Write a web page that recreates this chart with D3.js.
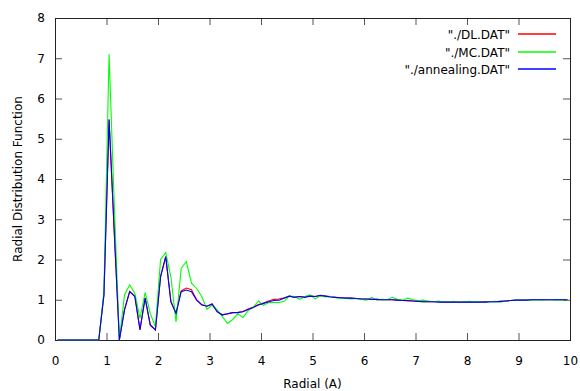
<!DOCTYPE html>
<html>
<head>
<meta charset="utf-8">
<script src="https://cdn.jsdelivr.net/npm/d3@7"></script>
<style>
  html, body { margin:0; padding:0; background:#fff; }
  svg { display:block; font-family:'DejaVu Sans', sans-serif; }
</style>
</head>
<body>
<svg id="chart" width="580" height="391"></svg>
<script>
/* ---------- data ---------- */
const radial = [
  0.05,0.15,0.25,0.35,0.45,0.55,0.65,0.75,0.85,0.95,
  1.05,1.15,1.25,1.35,1.45,1.55,1.65,1.75,1.85,1.95,
  2.05,2.15,2.25,2.35,2.45,2.55,2.65,2.75,2.85,2.95,
  3.05,3.15,3.25,3.35,3.45,3.55,3.65,3.75,3.85,3.95,
  4.05,4.15,4.25,4.35,4.45,4.55,4.65,4.75,4.85,4.95,
  5.05,5.15,5.25,5.35,5.45,5.55,5.65,5.75,5.85,5.95,
  6.05,6.15,6.25,6.35,6.45,6.55,6.65,6.75,6.85,6.95,
  7.05,7.15,7.25,7.35,7.45,7.55,7.65,7.75,7.85,7.95,
  8.05,8.15,8.25,8.35,8.45,8.55,8.65,8.75,8.85,8.95,
  9.05,9.15,9.25,9.35,9.45,9.55,9.65,9.75,9.85,9.95
];

const dlValues = [
  0,0,0,0,0,0,0,0,0,1.12,
  5.48,2.7,0,0.76,1.21,1.09,0.26,1.05,0.38,0.25,
  1.58,2.07,0.96,0.67,1.22,1.29,1.25,1.0,0.88,0.84,
  0.9,0.71,0.63,0.65,0.68,0.69,0.71,0.77,0.82,0.88,
  0.92,0.97,1.01,1.02,1.05,1.09,1.07,1.08,1.07,1.1,
  1.08,1.1,1.09,1.08,1.06,1.05,1.04,1.04,1.03,1.02,
  1.02,1.01,1.01,1.0,1.0,1.0,0.99,0.98,0.97,0.97,
  0.96,0.95,0.95,0.95,0.95,0.94,0.94,0.94,0.94,0.94,
  0.94,0.94,0.95,0.95,0.95,0.95,0.96,0.97,0.98,0.99,
  0.99,0.99,1.0,1.0,1.0,1.0,1.0,1.0,1.0,1.0
];

const mcValues = [
  0,0,0,0,0,0,0,0,0,1.2,
  7.1,3.4,0,1.12,1.37,1.16,0.54,1.18,0.66,0.33,
  2.0,2.17,1.57,0.45,1.78,1.95,1.41,1.28,1.08,0.76,
  0.87,0.75,0.58,0.41,0.51,0.65,0.56,0.73,0.81,0.97,
  0.86,0.93,0.93,0.93,0.96,1.09,1.08,1.01,1.08,1.12,
  1.02,1.1,1.07,1.08,1.05,1.04,1.03,1.02,1.03,1.01,
  0.99,1.06,0.99,1.01,1.0,1.06,1.01,0.99,1.04,1.0,
  0.98,0.99,0.97,0.95,0.97,0.94,0.95,0.96,0.93,0.95,
  0.96,0.94,0.95,0.93,0.95,0.96,0.94,0.97,0.98,0.99,
  0.98,1.0,0.99,1.0,0.99,1.0,1.0,0.99,1.0,0.99
];

const annealingValues = [
  0,0,0,0,0,0,0,0,0,1.12,
  5.48,2.7,0,0.75,1.2,1.08,0.25,1.04,0.37,0.25,
  1.57,2.07,0.95,0.66,1.2,1.24,1.2,0.99,0.87,0.84,
  0.89,0.7,0.62,0.65,0.68,0.68,0.7,0.76,0.81,0.87,
  0.91,0.95,0.98,0.99,1.04,1.09,1.06,1.08,1.06,1.09,
  1.08,1.11,1.09,1.07,1.06,1.05,1.04,1.04,1.03,1.02,
  1.02,1.01,1.01,1.0,1.0,1.0,0.99,0.98,0.98,0.97,
  0.96,0.95,0.95,0.95,0.94,0.94,0.94,0.94,0.94,0.94,
  0.94,0.94,0.94,0.94,0.95,0.95,0.96,0.97,0.98,0.99,
  0.99,0.99,1.0,1.0,1.0,1.0,1.0,1.0,1.0,1.0
];

const seriesNames  = ['"./DL.DAT"', '"./MC.DAT"', '"./annealing.DAT"'];
const seriesColors = ['#ff0000', '#00ff00', '#0000ff'];
const seriesValues = [dlValues, mcValues, annealingValues];

const xTicks = [0,1,2,3,4,5,6,7,8,9,10];
const yTicks = [0,1,2,3,4,5,6,7,8];

/* ---------- layout ---------- */
const svg = d3.select('#chart');
const margin = { top:18, right:10, bottom:51, left:55 };
const width = 580, height = 391;
const plotW = width - margin.left - margin.right;
const plotH = height - margin.top - margin.bottom;

const x = d3.scaleLinear().domain([0,10]).range([0, plotW]);
const y = d3.scaleLinear().domain([0,8]).range([plotH, 0]);

const g = svg.append('g').attr('transform', `translate(${margin.left},${margin.top})`);

// axes: ticks point inward, mirrored on top/right (gnuplot style)
const tickLen = 7;
const styleAxis = sel => {
  sel.select('.domain').remove();
  sel.selectAll('line').attr('stroke', '#555').attr('stroke-width', 1);
  sel.selectAll('text').attr('fill', '#000').style('font-size', '12px')
    .style('font-family', "'DejaVu Sans', sans-serif");
};

g.append('g').attr('transform', `translate(0,${plotH})`)
  .call(d3.axisBottom(x).tickValues(xTicks).tickFormat(d3.format('d')).tickSizeInner(-tickLen).tickSizeOuter(0).tickPadding(16))
  .call(styleAxis);
g.append('g')
  .call(d3.axisLeft(y).tickValues(yTicks).tickFormat(d3.format('d')).tickSizeInner(-tickLen).tickSizeOuter(0).tickPadding(10))
  .call(styleAxis);
g.append('g')
  .call(d3.axisTop(x).tickValues(xTicks.slice(1, -1)).tickSizeInner(-tickLen).tickSizeOuter(0).tickFormat(''))
  .call(styleAxis);
g.append('g').attr('transform', `translate(${plotW},0)`)
  .call(d3.axisRight(y).tickValues(yTicks.slice(1, -1)).tickSizeInner(-tickLen).tickSizeOuter(0).tickFormat(''))
  .call(styleAxis);

// frame
g.append('rect').attr('x', 0.5).attr('y', 0.5).attr('width', plotW).attr('height', plotH)
  .attr('fill', 'none').attr('stroke', '#222').attr('stroke-width', 1);

// lines
const line = d3.line().x((d, i) => x(radial[i])).y(d => y(d));
seriesValues.forEach((vals, k) => {
  g.append('path').datum(vals)
    .attr('d', line)
    .attr('fill', 'none')
    .attr('stroke', seriesColors[k])
    .attr('stroke-width', 1.1)
    .attr('stroke-linejoin', 'miter');
});

// legend
const legendRows = [34, 52, 69];
seriesNames.forEach((name, k) => {
  const row = svg.append('g').attr('transform', `translate(510,${legendRows[k]})`);
  row.append('text').attr('x', 0).attr('y', 4.5).attr('text-anchor', 'end')
    .style('font-size', '12px').text(name);
  row.append('line').attr('x1', 8).attr('x2', 46).attr('y1', 0).attr('y2', 0)
    .attr('stroke', seriesColors[k]).attr('stroke-width', 1.3);
});

// axis titles
svg.append('text').attr('x', margin.left + plotW / 2).attr('y', 388)
  .attr('text-anchor', 'middle').style('font-size', '12px').text('Radial (A)');
svg.append('text')
  .attr('transform', `translate(22,${margin.top + plotH / 2}) rotate(-90)`)
  .attr('text-anchor', 'middle').style('font-size', '12px').text('Radial Distribution Function');
</script>
</body>
</html>
